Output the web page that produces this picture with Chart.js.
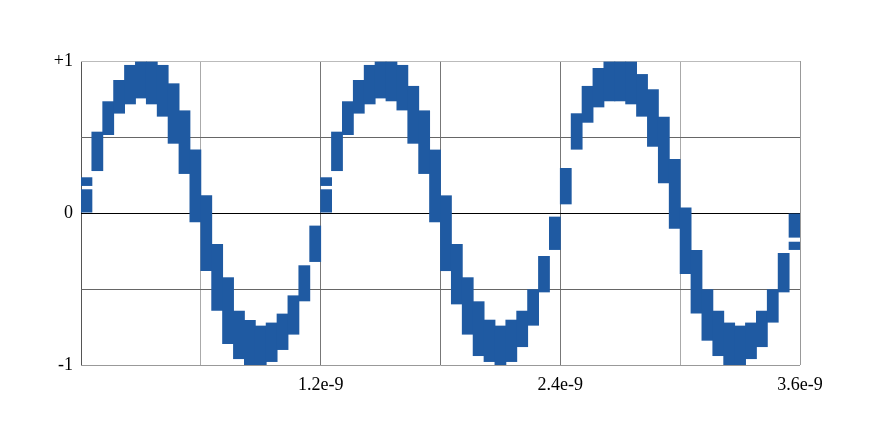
<!DOCTYPE html>
<html>
<head>
<meta charset="utf-8">
<script src="https://cdn.jsdelivr.net/npm/chart.js@4.4.1/dist/chart.umd.min.js"></script>
<style>
  html, body { margin: 0; padding: 0; background: #fff; }
  #wrap { width: 874px; height: 441px; }
</style>
</head>
<body>
<div id="wrap"><canvas id="waveChart"></canvas></div>
<script>
// time span and number of sample bins
const timeSpan = 3.6e-9;
const binCount = 66;

// min / max of the signal in each bin
const binLow = [
    0, 0.276, 0.513, 0.654, 0.715, 0.754, 0.715, 0.634, 0.456, 0.257, -0.061,
    -0.382, -0.643, -0.862, -0.961, -1.0, -1.0, -0.980, -0.901, -0.800, -0.581, -0.322,
    0, 0.276, 0.513, 0.654, 0.715, 0.754, 0.735, 0.675, 0.456, 0.257, -0.061,
    -0.382, -0.601, -0.800, -0.941, -0.980, -1.0, -0.980, -0.882, -0.741, -0.522, -0.243,
    0.057, 0.417, 0.594, 0.695, 0.735, 0.735, 0.715, 0.634, 0.436, 0.195, -0.103,
    -0.401, -0.662, -0.840, -0.941, -1.0, -1.0, -0.961, -0.882, -0.721, -0.522, -0.162
];
const binHigh = [
    0.156, 0.535, 0.735, 0.875, 0.974, 0.996, 0.996, 0.974, 0.853, 0.675, 0.417,
    0.116, -0.204, -0.423, -0.643, -0.704, -0.741, -0.721, -0.662, -0.542, -0.344, -0.083,
    0.156, 0.535, 0.735, 0.875, 0.974, 0.996, 0.996, 0.974, 0.836, 0.675, 0.417,
    0.116, -0.204, -0.423, -0.581, -0.702, -0.741, -0.702, -0.643, -0.502, -0.283, -0.024,
    0.296, 0.656, 0.836, 0.954, 0.996, 0.996, 0.996, 0.914, 0.814, 0.634, 0.355,
    0.037, -0.243, -0.502, -0.643, -0.721, -0.741, -0.721, -0.643, -0.502, -0.263, -0.004
];

// a few bins have a second, separate piece
const extraBins = [0, 22, 65];
const extraLow = [0.178, 0.178, -0.243];
const extraHigh = [0.235, 0.235, -0.189];

// axis ticks
const xTickValues = [0, 0.6e-9, 1.2e-9, 1.8e-9, 2.4e-9, 3.0e-9, 3.6e-9];
const xTickLabels = ['', '', '1.2e-9', '', '2.4e-9', '', '3.6e-9'];
const yTickValues = [-1, -0.5, 0, 0.5, 1];
const yTickLabels = ['-1', '', '0', '', '+1'];

const binWidth = timeSpan / binCount;
const mainData = binLow.map((lo, i) => ({ x: (i + 0.5) * binWidth, y: [lo, binHigh[i]] }));
const extraData = extraBins.map((b, i) => ({ x: (b + 0.5) * binWidth, y: [extraLow[i], extraHigh[i]] }));

const barColor = '#1f5aa2';
const fontSpec = { family: '"Liberation Serif", "DejaVu Serif", serif', size: 18 };

const xGridColors = ['#555', '#aaa', '#777', '#777', '#777', '#aaa', '#999'];
const yGridColors = ['#999', '#666', '#000', '#666', '#bbb'];

// shared look for both bar sets; slightly over-wide so neighbours touch
const barStyle = {
    backgroundColor: barColor,
    borderWidth: 0,
    barPercentage: 1.08,
    categoryPercentage: 1,
    grouped: false
};

new Chart(document.getElementById('waveChart').getContext('2d'), {
    type: 'bar',
    data: {
        datasets: [
            Object.assign({ data: mainData }, barStyle),
            Object.assign({ data: extraData }, barStyle)
        ]
    },
    options: {
        responsive: true,
        maintainAspectRatio: false,
        animation: false,
        layout: { padding: { left: 0, right: 74, top: 61, bottom: 0 } },
        plugins: {
            legend: { display: false },
            tooltip: { enabled: false }
        },
        scales: {
            x: {
                type: 'linear',
                min: 0,
                max: timeSpan,
                offset: false,
                z: 1,
                border: { display: false },
                grid: {
                    offset: false,
                    drawTicks: false,
                    color: (ctx) => xGridColors[ctx.index] || '#777'
                },
                afterBuildTicks: (axis) => {
                    axis.ticks = xTickValues.map(v => ({ value: v }));
                },
                afterFit: (axis) => { axis.height = 76; },
                ticks: {
                    autoSkip: false,
                    maxRotation: 0,
                    padding: 9,
                    color: '#000',
                    font: fontSpec,
                    callback: (value, index) => xTickLabels[index]
                }
            },
            y: {
                min: -1,
                max: 1,
                z: 1,
                border: { display: false },
                grid: {
                    drawTicks: false,
                    color: (ctx) => yGridColors[ctx.index] || '#777'
                },
                afterBuildTicks: (axis) => {
                    axis.ticks = yTickValues.map(v => ({ value: v }));
                },
                afterFit: (axis) => { axis.width = 81; },
                ticks: {
                    autoSkip: false,
                    padding: 8,
                    color: '#000',
                    font: fontSpec,
                    callback: (value, index) => yTickLabels[index]
                }
            }
        }
    }
});
</script>
</body>
</html>
